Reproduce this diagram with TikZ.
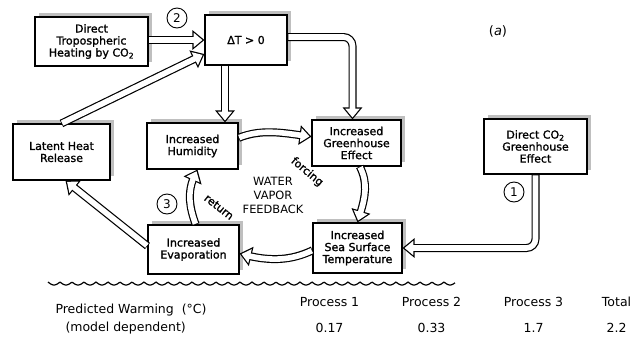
\documentclass[tikz,border=0pt]{standalone}
\usepackage{fontspec}
\setmainfont{DejaVu Sans}
\newfontfamily\boxfont[FakeBold=1.3]{DejaVu Sans}
\usetikzlibrary{matrix,arrows.meta,bending,shadows}

\begin{document}
\begin{tikzpicture}[x=1pt,y=-1pt,
  box/.style={draw, line width=1.1pt, fill=white, align=center, inner sep=1pt,
    font=\boxfont\fontsize{11}{12}\selectfont,
    drop shadow={shadow xshift=4pt, shadow yshift=4pt, fill=gray!50, opacity=1}},
  num/.style={draw, circle, line width=0.9pt, minimum size=20pt, inner sep=0pt,
    font=\fontsize{12}{12}\selectfont},
  fat/.style={line width=8pt, -{Triangle[length=12pt,width=19pt]},
    postaction={draw=white, line width=5.6pt, shorten >=2pt, shorten <=0.7pt,
      -{Triangle[length=8.8pt,width=14pt]}}}]
\useasboundingbox (0,0) rectangle (630,338);

\node[box, minimum width=113pt, minimum height=49pt] (trop) at (91.5,41.5) {Direct\\Tropospheric\\Heating by CO\textsubscript{2}};
\node[box, minimum width=82pt, minimum height=50pt] (dT) at (246,40) {ΔT > 0};
\node[box, minimum width=97pt, minimum height=56pt] (latent) at (61.5,152) {Latent Heat\\Release};
\node[box, minimum width=91pt, minimum height=46pt] (humid) at (192.5,146) {Increased\\Humidity};
\node[box, minimum width=89pt, minimum height=46pt] (green) at (356.5,143) {Increased\\Greenhouse\\Effect};
\node[box, minimum width=103pt, minimum height=55pt] (direct) at (535.5,146.5) {Direct CO\textsubscript{2}\\Greenhouse\\Effect};
\node[box, minimum width=91pt, minimum height=49pt] (evap) at (193.5,249.5) {Increased\\Evaporation};
\node[box, minimum width=89pt, minimum height=50pt] (sst) at (357.5,248) {Increased\\Sea Surface\\Temperature};

\node[num] (two) at (177,18) {2};
\node[num] (one) at (514,192) {1};
\node[num] (three) at (167,204) {3};
\node[font=\fontsize{13}{13}\selectfont] (panel) at (498,31) {(\textit{a})};

% the feedback loop
\node[align=center, font=\fontsize{11.4}{14}\selectfont] (wvf) at (273,195) {WATER\\VAPOR\\FEEDBACK};
\node[rotate=-40, font=\boxfont\fontsize{11}{11}\selectfont] (forcing) at (307,172) {forcing};
\node[rotate=-38, font=\boxfont\fontsize{11}{11}\selectfont] (return) at (219,207) {return};

\draw[fat] (trop.east|-dT.west) -- (dT.west);
\draw[fat] (latent.north) -- ([yshift=-14pt]dT.west);
\draw[fat] ([xshift=-21pt]dT.south) -- ([xshift=-21pt]dT.south|-humid.north);
\draw[fat, rounded corners=9pt] ([yshift=3pt]dT.east) -| ([xshift=-4pt]green.north);
\draw[fat, rounded corners=9pt] (direct.south) |- (sst.east);
\draw[fat] ([yshift=3.5pt]evap.west) -- ([xshift=4pt]latent.south);
\draw[fat] (humid.10) .. controls +(25,-10) and +(-25,-3) .. (green.172);
\draw[fat] (green.-82) .. controls +(10,20) and +(6,-20) .. (sst.north);
\draw[fat] (sst.183) .. controls +(-25,12) and +(25,7) .. (evap.-5);
\draw[fat] (evap.85) .. controls +(-8,-22) and +(-10,18) .. (humid.-78);

% sea surface
\draw[line width=1.2pt] plot[domain=48:455, samples=400] (\x, {282+3*abs(sin(15*\x))});

% predicted warming
\node[anchor=west, font=\fontsize{12.5}{14}\selectfont] (predlbl) at (52,310) {Predicted Warming\ \ (°C)};
\node[anchor=west, font=\fontsize{12.5}{14}\selectfont] (modellbl) at (62,328) {(model dependent)};
\matrix[matrix of nodes, nodes={anchor=center, minimum width=102pt, minimum height=26pt, inner sep=0pt, font=\fontsize{12.5}{14}\selectfont},
  column 4/.style={nodes={minimum width=64pt}}, column sep=0pt, row sep=0pt, anchor=west] (warm) at (275,315) {
Process 1 & Process 2 & Process 3 & Total \\
0.17 & 0.33 & 1.7 & 2.2 \\
};
\end{tikzpicture}
\end{document}
